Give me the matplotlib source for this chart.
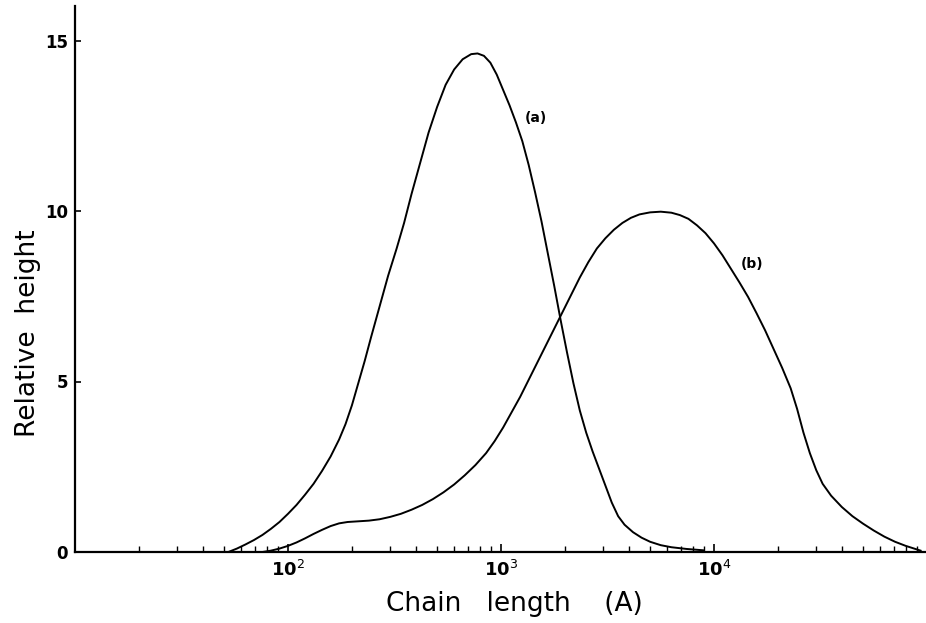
import numpy as np
import matplotlib
matplotlib.use('Agg')
import matplotlib.pyplot as plt
from matplotlib.ticker import LogLocator, NullFormatter, FixedLocator

# Curve (a): log10(chain length) and relative height
log_a = [1.72, 1.76, 1.80, 1.84, 1.88, 1.92, 1.96, 2.00, 2.04, 2.08, 2.12, 2.16,
         2.20, 2.24, 2.27, 2.30, 2.33, 2.36, 2.39, 2.43, 2.47, 2.51, 2.545, 2.58,
         2.62, 2.66, 2.70, 2.74, 2.78, 2.82, 2.86, 2.89, 2.92, 2.95, 2.98, 3.01,
         3.04, 3.07, 3.10, 3.13, 3.16, 3.19, 3.22, 3.25, 3.28, 3.31, 3.34, 3.37,
         3.40, 3.43, 3.46, 3.49, 3.52, 3.55, 3.58, 3.62, 3.66, 3.70, 3.75, 3.80,
         3.87, 3.95]
h_a = [0.0, 0.1, 0.22, 0.35, 0.5, 0.68, 0.88, 1.12, 1.38, 1.68, 2.0, 2.38,
       2.8, 3.3, 3.75, 4.3, 4.95, 5.6, 6.3, 7.2, 8.1, 8.9, 9.65, 10.5,
       11.4, 12.3, 13.05, 13.7, 14.15, 14.45, 14.6, 14.62, 14.55, 14.35, 14.0, 13.55,
       13.1, 12.6, 12.05, 11.35, 10.55, 9.7, 8.75, 7.8, 6.8, 5.85, 4.95, 4.15,
       3.5, 2.95, 2.45, 1.95, 1.45, 1.05, 0.8, 0.58, 0.42, 0.3, 0.2, 0.14,
       0.09, 0.05]

# Curve (b)
log_b = [1.88, 1.92, 1.96, 2.00, 2.04, 2.08, 2.12, 2.16, 2.20, 2.24, 2.28, 2.33,
         2.38, 2.43, 2.48, 2.53, 2.58, 2.63, 2.68, 2.73, 2.78, 2.83, 2.88, 2.93,
         2.97, 3.01, 3.05, 3.09, 3.13, 3.17, 3.21, 3.25, 3.29, 3.33, 3.37, 3.41,
         3.45, 3.49, 3.53, 3.57, 3.61, 3.65, 3.70, 3.75, 3.80, 3.84, 3.88, 3.92,
         3.96, 4.00, 4.04, 4.08, 4.12, 4.16, 4.20, 4.24, 4.28, 4.32, 4.36, 4.39,
         4.42, 4.45, 4.48, 4.51, 4.55, 4.60, 4.65, 4.70, 4.75, 4.80, 4.85, 4.90,
         4.94, 4.97]
h_b = [0.0, 0.04, 0.1, 0.18, 0.28, 0.4, 0.53, 0.65, 0.76, 0.84, 0.88, 0.9,
       0.92, 0.96, 1.03, 1.12, 1.24, 1.38, 1.55, 1.75, 1.98, 2.25, 2.55, 2.9,
       3.25, 3.65, 4.1, 4.55, 5.05, 5.55, 6.05, 6.55, 7.05, 7.55, 8.05, 8.5,
       8.9, 9.2, 9.45, 9.65, 9.8, 9.9, 9.96, 9.98, 9.95, 9.88, 9.77, 9.58,
       9.35, 9.05, 8.7, 8.3, 7.9, 7.48, 7.0, 6.5, 5.95, 5.4, 4.8, 4.2,
       3.5, 2.9, 2.4, 2.0, 1.65, 1.32, 1.05, 0.83, 0.63, 0.45, 0.3, 0.18,
       0.1, 0.04]

y_ticks = [0, 5, 10, 15]
x_major = [1e2, 1e3, 1e4]
x_labels = ['10$^2$', '10$^3$', '10$^4$']

fig = plt.figure(figsize=(9.26, 6.23), dpi=100)
ax = fig.add_axes([75/926, 71/623, 852/926, 545.6/623])

ax.plot(10**np.array(log_a), h_a, color='black', lw=1.4, solid_joinstyle='round')
ax.plot(10**np.array(log_b), h_b, color='black', lw=1.4, solid_joinstyle='round')

ax.set_xscale('log')
ax.set_xlim(10, 1e5)
ax.set_ylim(0, 16)

for s in ['top', 'right']:
    ax.spines[s].set_visible(False)
for s in ['left', 'bottom']:
    ax.spines[s].set_linewidth(1.6)

ax.xaxis.set_major_locator(FixedLocator(x_major))
ax.set_xticklabels(x_labels, fontsize=13, fontweight='bold')
ax.xaxis.set_minor_locator(LogLocator(base=10, subs=np.arange(2, 10)))
ax.xaxis.set_minor_formatter(NullFormatter())
ax.set_yticks(y_ticks)
ax.set_yticklabels([str(t) for t in y_ticks], fontsize=12, fontweight='bold')

ax.tick_params(axis='x', which='major', direction='in', length=6, width=1.2, pad=6)
ax.tick_params(axis='x', which='minor', direction='in', length=4, width=1.0)
ax.tick_params(axis='y', which='major', direction='in', length=4, width=1.2, pad=5)

ax.text(10**3.164, 12.73, '(a)', fontsize=10, fontweight='bold', ha='center', va='center')
ax.text(10**4.178, 8.45, '(b)', fontsize=10, fontweight='bold', ha='center', va='center')

fig.text(514/926, 1 - 604/623, 'Chain   length    (A)', fontsize=19,
         ha='center', va='center')
fig.text(28/926, 1 - 333/623, 'Relative  height', fontsize=19, rotation=90,
         ha='center', va='center')

fig.savefig('out.png', dpi=100)
